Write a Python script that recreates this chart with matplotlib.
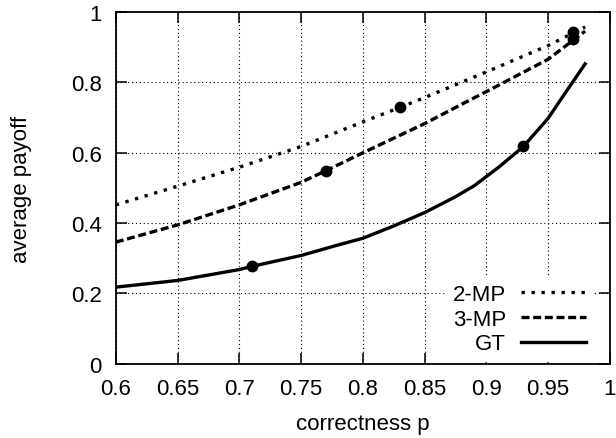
import matplotlib
matplotlib.use("Agg")
import matplotlib.pyplot as plt

plt.rcParams["font.family"] = ["Liberation Sans", "DejaVu Sans"]

# curves
p_mp2 = [0.60, 0.65, 0.70, 0.75, 0.80, 0.83, 0.85, 0.90, 0.95, 0.98]
v_mp2 = [0.452, 0.505, 0.559, 0.618, 0.688, 0.729, 0.757, 0.830, 0.905, 0.958]

p_mp3 = [0.60, 0.65, 0.70, 0.75, 0.77, 0.80, 0.85, 0.88, 0.90, 0.95, 0.98]
v_mp3 = [0.346, 0.395, 0.452, 0.516, 0.549, 0.600, 0.683, 0.738, 0.774, 0.866, 0.946]

p_gt = [0.60, 0.65, 0.70, 0.71, 0.75, 0.78, 0.80, 0.825, 0.85, 0.875, 0.89,
        0.91, 0.93, 0.95, 0.965, 0.98]
v_gt = [0.218, 0.237, 0.268, 0.277, 0.308, 0.338, 0.357, 0.392, 0.430, 0.475, 0.506,
        0.559, 0.618, 0.698, 0.776, 0.853]

# highlighted points
pts_p = [0.71, 0.77, 0.83, 0.93, 0.97, 0.97]
pts_v = [0.277, 0.549, 0.730, 0.618, 0.945, 0.924]

fig = plt.figure(figsize=(6.16, 4.39), dpi=100)
ax = fig.add_axes([0.188, 0.169, 0.802, 0.801])

ax.plot(p_mp2, v_mp2, color="black", lw=2.4, ls=(0, (1, 2.0)), label="2-MP")
ax.plot(p_mp3, v_mp3, color="black", lw=2.4, ls=(0, (2.4, 1.1)), label="3-MP")
ax.plot(p_gt, v_gt, color="black", lw=2.4, ls="-", label="GT")
ax.plot(pts_p, pts_v, "o", color="black", ms=7.5, zorder=5)

ax.set_xlim(0.6, 1.0)
ax.set_ylim(0, 1)
ax.set_xticks([0.6, 0.65, 0.7, 0.75, 0.8, 0.85, 0.9, 0.95, 1.0])
ax.set_xticklabels(["0.6", "0.65", "0.7", "0.75", "0.8", "0.85", "0.9", "0.95", "1"])
ax.set_yticks([0, 0.2, 0.4, 0.6, 0.8, 1.0])
ax.set_yticklabels(["0", "0.2", "0.4", "0.6", "0.8", "1"])

ax.grid(True, color="black", ls=(0, (1, 2.5)), lw=0.8)
ax.tick_params(direction="in", length=8, width=1.1, top=True, right=True,
               labelsize=16, pad=10, colors="black")
for s in ax.spines.values():
    s.set_linewidth(1.3)

ax.set_xlabel("correctness p", fontsize=16, labelpad=10)
ax.set_ylabel("average payoff", fontsize=16, labelpad=28)

leg = ax.legend(loc="lower right", bbox_to_anchor=(0.965, 0.008), markerfirst=False,
                frameon=True, fontsize=16, handlelength=2.9, handletextpad=0.7,
                labelspacing=0.17, borderaxespad=0, borderpad=0.3, fancybox=False)
leg.get_frame().set_edgecolor("white")
leg.get_frame().set_facecolor("white")
leg.get_frame().set_alpha(1.0)
for t in leg.get_texts():
    t.set_ha("right")

fig.savefig("out.png", dpi=100)
